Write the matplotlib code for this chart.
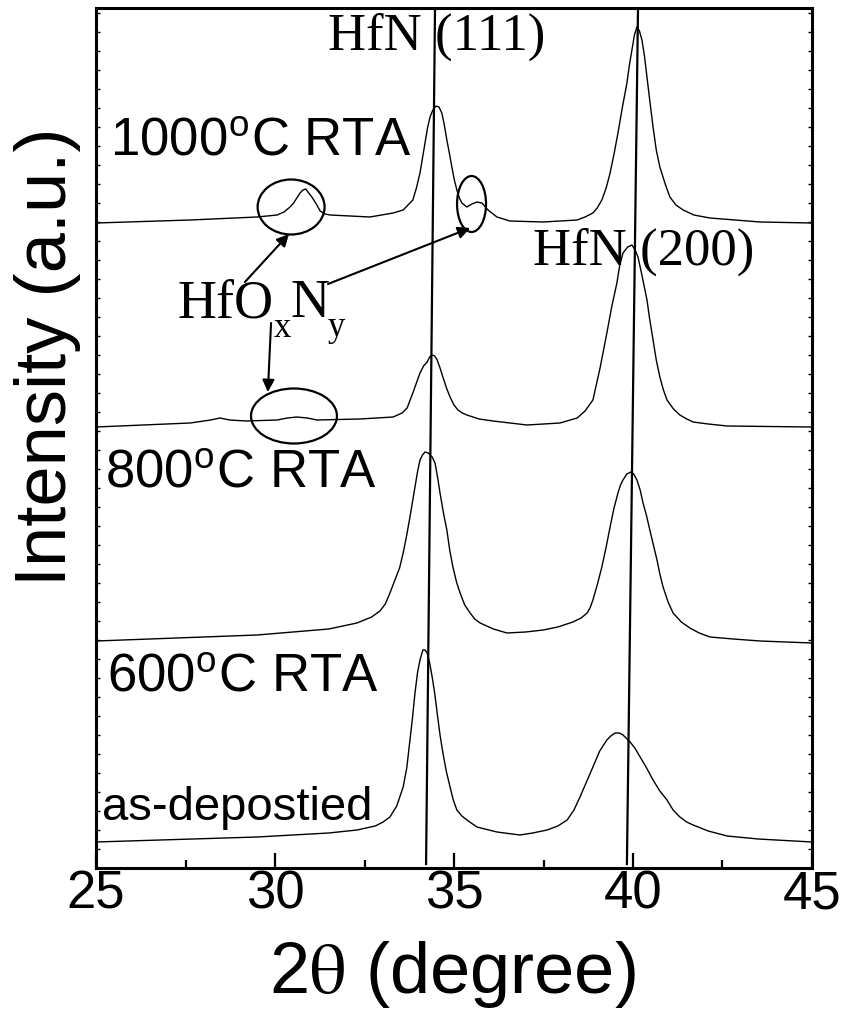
import matplotlib
matplotlib.use("Agg")
import matplotlib.pyplot as plt
from matplotlib.patches import Ellipse
from matplotlib.ticker import MultipleLocator

plt.rcParams['font.family'] = ['Liberation Sans', 'DejaVu Sans']
plt.rcParams['mathtext.fontset'] = 'stix'

# XRD scans, 2theta (deg) vs. stacked intensity (a.u.)
tt_asdep = [25.00, 29.50, 31.50, 32.29, 32.80, 33.02, 33.21, 33.40, 33.58, 33.68,
            33.77, 33.84, 33.91, 33.98, 34.05, 34.13, 34.19, 34.25, 34.32, 34.39,
            34.46, 34.53, 34.61, 34.69, 34.79, 34.89, 34.98, 35.08, 35.22, 35.36,
            35.64, 36.20, 36.84, 37.20, 37.60, 37.90, 38.16, 38.35, 38.52, 38.70,
            38.88, 39.07, 39.27, 39.38, 39.50, 39.62, 39.72, 39.92, 40.05, 40.20,
            40.38, 40.56, 40.75, 40.95, 41.12, 41.31, 41.50, 41.68, 42.10, 42.63,
            43.50, 45.00]
i_asdep = [26, 31, 35, 38, 42, 46, 51, 62, 81, 100,
           128, 150, 175, 195, 208, 218, 218, 215, 205, 191,
           175, 155, 133, 115, 96, 81, 68, 58, 52, 48,
           41, 36, 33, 35, 38, 42, 48, 58, 71, 86,
           101, 117, 128, 132, 135, 135, 133, 126, 120, 111,
           100, 88, 77, 68, 58, 51, 46, 43, 37, 32,
           29, 26]

tt_600 = [25.00, 29.50, 31.50, 32.29, 32.70, 32.93, 33.08, 33.20, 33.35, 33.48,
          33.58, 33.68, 33.77, 33.84, 33.91, 33.98, 34.05, 34.12, 34.19, 34.28,
          34.39, 34.47, 34.54, 34.61, 34.70, 34.80, 34.88, 34.97, 35.07, 35.17,
          35.30, 35.45, 35.58, 35.73, 36.10, 36.48, 37.00, 37.49, 37.90, 38.32,
          38.55, 38.72, 38.80, 38.88, 39.00, 39.13, 39.25, 39.36, 39.47, 39.58,
          39.65, 39.72, 39.83, 39.94, 40.02, 40.11, 40.20, 40.28, 40.38, 40.47,
          40.57, 40.67, 40.75, 40.84, 40.98, 41.12, 41.35, 41.59, 41.85, 42.15,
          42.80, 43.55, 45.00]
i_600 = [227, 233, 239, 245, 251, 257, 264, 274, 288, 300,
         315, 333, 351, 366, 381, 396, 408, 413, 416, 415,
         411, 405, 391, 375, 356, 338, 318, 301, 286, 275,
         263, 255, 249, 245, 239, 235, 236, 238, 241, 246,
         250, 255, 260, 268, 283, 301, 321, 341, 360, 375,
         383, 388, 394, 396, 394, 388, 378, 365, 352, 338,
         323, 308, 294, 281, 266, 255, 246, 240, 235, 231,
         229, 227, 225]

tt_800 = [25.00, 27.63, 28.20, 28.46, 28.74, 29.20, 30.06, 30.35, 30.61, 30.90,
          31.17, 32.37, 33.30, 33.55, 33.69, 33.85, 33.97, 34.05, 34.15, 34.25,
          34.32, 34.39, 34.46, 34.53, 34.61, 34.69, 34.79, 34.89, 35.00, 35.11,
          35.23, 35.36, 35.70, 36.09, 37.04, 37.96, 38.44, 38.66, 38.88, 39.08,
          39.27, 39.41, 39.55, 39.63, 39.72, 39.85, 39.97, 40.06, 40.14, 40.26,
          40.39, 40.47, 40.56, 40.65, 40.75, 40.85, 40.95, 41.13, 41.31, 41.50,
          41.68, 42.10, 42.63, 45.00]
i_800 = [441, 445, 448, 450, 448, 447, 448, 450, 451, 450,
         448, 449, 451, 455, 460, 475, 487, 495, 502, 506,
         511, 513, 512, 508, 500, 491, 480, 471, 463, 458,
         455, 453, 449, 447, 443, 445, 450, 457, 468, 500,
         535, 562, 585, 603, 615, 621, 623, 618, 611, 591,
         568, 548, 528, 508, 491, 478, 468, 459, 453, 449,
         446, 444, 442, 441]

tt_1000 = [25.00, 27.63, 29.50, 30.06, 30.25, 30.42, 30.52, 30.61, 30.70, 30.78,
           30.86, 30.92, 31.03, 31.17, 31.26, 31.40, 31.54, 32.65, 33.30, 33.58,
           33.85, 33.95, 34.05, 34.12, 34.19, 34.26, 34.33, 34.41, 34.50, 34.58,
           34.66, 34.73, 34.80, 34.87, 34.94, 35.01, 35.08, 35.15, 35.22, 35.36,
           35.50, 35.64, 35.78, 35.95, 36.20, 36.56, 37.49, 38.44, 38.66, 38.88,
           39.00, 39.13, 39.25, 39.36, 39.47, 39.58, 39.70, 39.83, 39.90, 39.97,
           40.04, 40.11, 40.18, 40.25, 40.32, 40.39, 40.47, 40.56, 40.65, 40.75,
           40.90, 41.03, 41.20, 41.40, 41.70, 42.15, 43.55, 45.00]
i_1000 = [645, 648, 651, 653, 656, 661, 665, 670, 675, 678,
          679, 676, 671, 663, 657, 654, 653, 651, 655, 658,
          668, 680, 695, 710, 725, 740, 751, 758, 762, 761,
          755, 743, 728, 715, 701, 688, 678, 670, 665, 661,
          664, 666, 665, 658, 651, 647, 646, 648, 651, 655,
          660, 668, 680, 695, 714, 735, 760, 785, 803, 818,
          833, 841, 837, 828, 812, 791, 767, 741, 718, 701,
          684, 671, 663, 658, 653, 650, 646, 645]

# guide lines through the HfN reflections (x at bottom, x at top)
hfn111_x = [34.22, 34.47]
hfn200_x = [39.83, 40.14]
guide_y = [4, 860]

fig = plt.figure(figsize=(8.45, 10.09), dpi=100)
ax = fig.add_axes([96 / 845, 1 - 868 / 1009, 716 / 845, 860 / 1009])

for tt, inten in [(tt_asdep, i_asdep), (tt_600, i_600), (tt_800, i_800), (tt_1000, i_1000)]:
    ax.plot(tt, inten, color='black', lw=1.0)

ax.plot(hfn111_x, guide_y, color='black', lw=1.6)
ax.plot(hfn200_x, guide_y, color='black', lw=1.6)

# circled HfOxNy features
for cx, cy, w, h in [(30.45, 661, 1.87, 55), (35.49, 664, 0.81, 56), (30.53, 452, 2.40, 55)]:
    ax.add_patch(Ellipse((cx, cy), w, h, fill=False, ec='black', lw=1.6))

arrow = dict(arrowstyle='-|>', color='black', lw=1.5, mutation_scale=18,
             shrinkA=0, shrinkB=0)
ax.annotate('', xy=(30.39, 634), xytext=(29.16, 586), arrowprops=arrow)
ax.annotate('', xy=(35.45, 640), xytext=(31.48, 584), arrowprops=arrow)
ax.annotate('', xy=(29.80, 476), xytext=(29.89, 545), arrowprops=arrow)

serif = ['Liberation Serif', 'DejaVu Serif']
ax.text(34.53, 818, 'HfN (111)', family=serif, fontsize=38, ha='center', va='baseline')
ax.text(37.22, 603, 'HfN (200)', family=serif, fontsize=38, ha='left', va='baseline')
ax.text(27.29, 551, 'HfO', family=serif, fontsize=39, ha='left', va='baseline')
ax.text(29.97, 531, 'x', family=serif, fontsize=25, ha='left', va='baseline')
ax.text(30.42, 551, 'N', family=serif, fontsize=39, ha='left', va='baseline')
ax.text(31.48, 532, 'y', family=serif, fontsize=25, ha='left', va='baseline')

lab = r'$^{\mathregular{o}}$C RTA'
ax.text(25.39, 713, '1000' + lab, fontsize=38, ha='left', va='baseline')
ax.text(25.25, 381, '800' + lab, fontsize=38, ha='left', va='baseline')
ax.text(25.31, 176, '600' + lab, fontsize=38, ha='left', va='baseline')
ax.text(25.17, 48, 'as-depostied', fontsize=34, ha='left', va='baseline')

ax.set_xlim(25, 45)
ax.set_ylim(0, 860)
ax.xaxis.set_major_locator(MultipleLocator(5))
ax.xaxis.set_minor_locator(MultipleLocator(2.5))
ax.yaxis.set_major_locator(MultipleLocator(19))
ax.tick_params(axis='x', which='major', direction='in', length=11, width=1.6,
               labelsize=38, pad=1, top=False)
ax.tick_params(axis='x', which='minor', direction='in', length=6, width=1.6, top=False)
ax.tick_params(axis='y', which='major', direction='in', length=3, width=1.0,
               left=True, right=True, labelleft=False)
for s in ax.spines.values():
    s.set_linewidth(2.2)

fig.text(48 / 845, 1 - 357 / 1009, 'Intensity (a.u.)', rotation=90,
         fontsize=52, ha='center', va='center')
fig.text(452 / 845, 1 - 975 / 1009, r'2$\mathrm{\theta}$ (degree)',
         fontsize=52, ha='center', va='center')

fig.savefig('out.png', dpi=100)
